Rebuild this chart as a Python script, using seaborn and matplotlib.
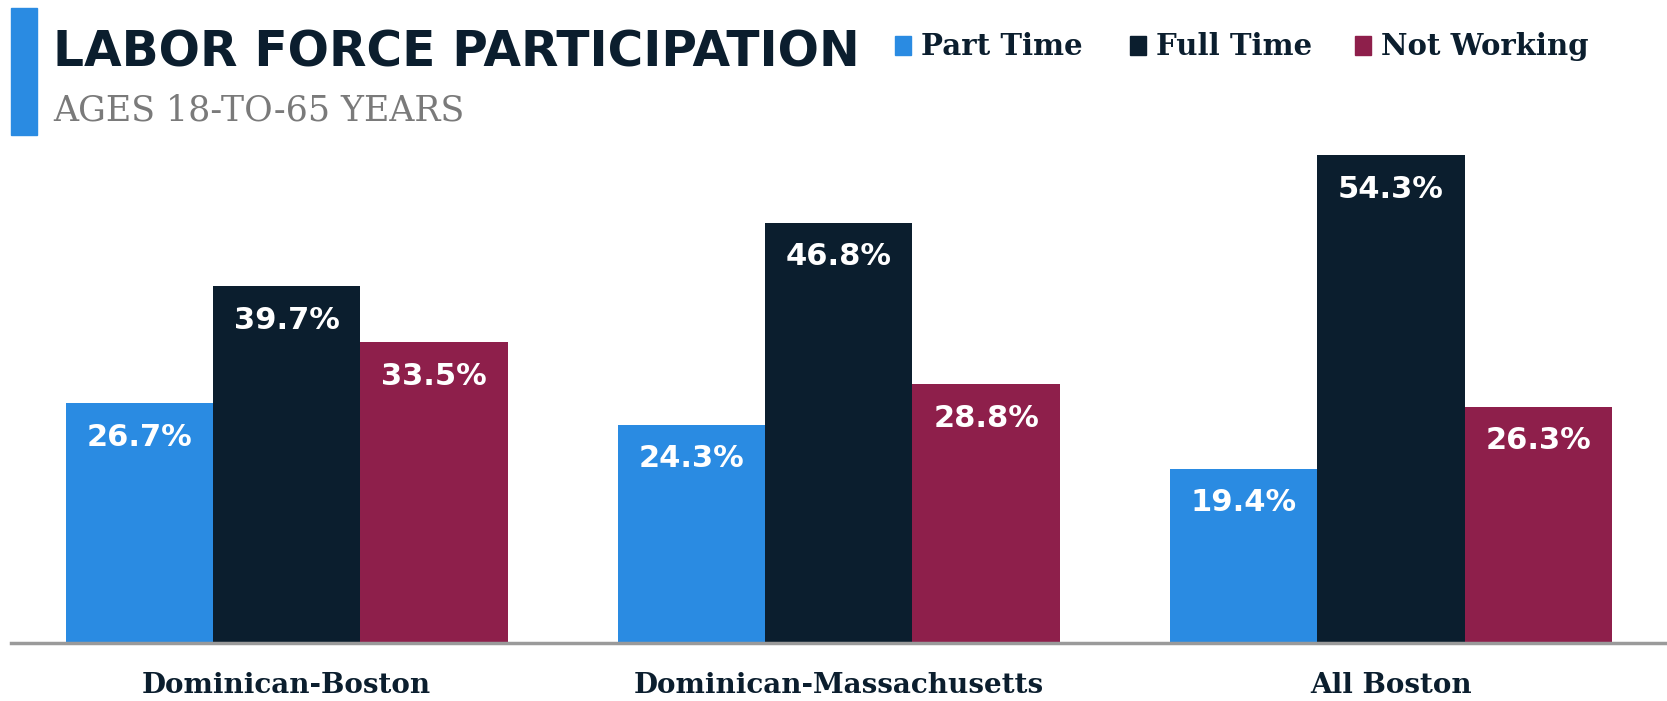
import pandas as pd
import numpy as np
import matplotlib.pyplot as plt
import seaborn as sns
from matplotlib.patches import Rectangle

# Chart data
groups = ['Dominican-Boston', 'Dominican-Massachusetts', 'All Boston']
series = ['Part Time', 'Full Time', 'Not Working']
part_time = [26.7, 24.3, 19.4]
full_time = [39.7, 46.8, 54.3]
not_working = [33.5, 28.8, 26.3]
colors = ['#2A8BE2', '#0B1E2E', '#8E1F4B']

df = pd.DataFrame({
    'Group': groups * 3,
    'Status': [s for s in series for _ in groups],
    'Value': part_time + full_time + not_working,
})

sns.set_theme(style='white')
plt.rcParams['font.family'] = ['DejaVu Sans']

fig = plt.figure(figsize=(16.67, 7.01), dpi=100)
ax = fig.add_axes([0.0064, 0.083, 0.9936, 0.717])

sns.barplot(data=df, x='Group', y='Value', hue='Status', hue_order=series,
            palette=colors, width=0.8, saturation=1, linewidth=0, ax=ax, legend=False)

ax.set_xlim(-0.5, 2.5)
ax.set_ylim(0, 56)
ax.set_xlabel('')
ax.set_ylabel('')
ax.set_yticks([])
ax.set_xticks(range(len(groups)))
ax.set_xticklabels(groups, family='DejaVu Serif', fontweight='bold',
                   fontsize=20, color='#0B1E2E')
ax.tick_params(axis='x', length=0, pad=21)
for side in ['top', 'right', 'left']:
    ax.spines[side].set_visible(False)
ax.spines['bottom'].set_color('#9A9A9A')
ax.spines['bottom'].set_linewidth(2.5)

# value labels inside the bars
for container in ax.containers:
    ax.bar_label(container, labels=[f'{v:.1f}%' for v in container.datavalues],
                 label_type='edge', padding=-35, color='white',
                 fontsize=22, fontweight='bold')

# header
fig.patches.append(Rectangle((0.0066, 0.807), 0.0156, 0.181, transform=fig.transFigure,
                             color='#2A8BE2', zorder=5))
fig.text(0.032, 0.905, 'LABOR FORCE PARTICIPATION', fontsize=35, fontweight='heavy',
         color='#0B1E2E', va='baseline', ha='left')
fig.text(0.032, 0.828, 'AGES 18-TO-65 YEARS', fontsize=25, family='DejaVu Serif',
         color='#7A7A7A', va='baseline', ha='left')

# legend
leg_x = [0.537, 0.678, 0.813]
for x, label, c in zip(leg_x, series, colors):
    fig.patches.append(Rectangle((x, 0.922), 0.0095, 0.026, transform=fig.transFigure,
                                 color=c))
    fig.text(x + 0.0155, 0.922, label, fontsize=21, fontweight='bold',
             family='DejaVu Serif', color='#0B1E2E', va='baseline', ha='left')

fig.savefig('out.png', dpi=100, facecolor='white')
